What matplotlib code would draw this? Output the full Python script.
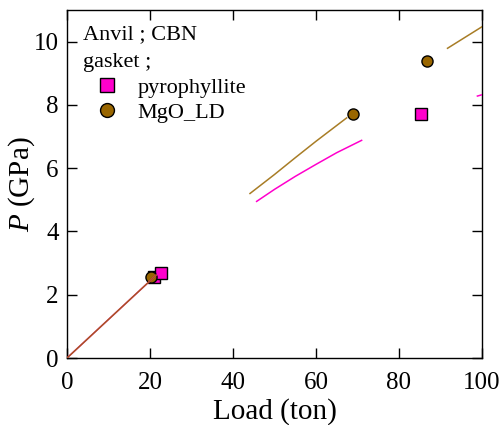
import matplotlib
matplotlib.use("Agg")
import matplotlib.pyplot as plt
from matplotlib.lines import Line2D

plt.rcParams['font.family'] = ['Liberation Serif', 'DejaVu Serif']
plt.rcParams['mathtext.fontset'] = 'custom'
plt.rcParams['mathtext.it'] = 'Liberation Serif:italic'
plt.rcParams['mathtext.rm'] = 'Liberation Serif'

# Data
pyro_load = [21.0, 22.7, 85.4]
pyro_p = [2.55, 2.69, 7.70]
mgo_load = [20.2, 69.0, 86.8]
mgo_p = [2.57, 7.70, 9.39]

# fitted curves (segments)
mag_seg1_x = [0.0, 21.5]
mag_seg1_y = [0.0, 2.62]
mag_seg2_x = [45.7, 50.0, 55.0, 60.0, 65.0, 71.0]
mag_seg2_y = [4.95, 5.33, 5.74, 6.12, 6.49, 6.88]
mag_seg3_x = [98.9, 100.0]
mag_seg3_y = [8.28, 8.32]

brn_seg1_x = [0.0, 21.5]
brn_seg1_y = [0.0, 2.62]
brn_seg2_x = [44.1, 50.0, 55.0, 60.0, 67.4]
brn_seg2_y = [5.20, 5.80, 6.33, 6.85, 7.59]
brn_seg3_x = [91.7, 100.0]
brn_seg3_y = [9.79, 10.47]

MAG = '#ff00cc'
BRN = '#996600'

fig = plt.figure(figsize=(5.04, 4.25), dpi=100)
ax = fig.add_axes([0.1329, 0.1576, 0.8234, 0.8189])

ax.plot(pyro_load, pyro_p, 's', ms=8, mfc=MAG, mec='black', mew=1.0, zorder=3)
ax.plot(mgo_load, mgo_p, 'o', ms=8, mfc=BRN, mec='black', mew=1.0, zorder=3)

for xs, ys in [(mag_seg1_x, mag_seg1_y), (mag_seg2_x, mag_seg2_y), (mag_seg3_x, mag_seg3_y)]:
    ax.plot(xs, ys, '-', color=MAG, lw=1.1, zorder=4)
for xs, ys in [(brn_seg1_x, brn_seg1_y), (brn_seg2_x, brn_seg2_y), (brn_seg3_x, brn_seg3_y)]:
    ax.plot(xs, ys, '-', color=BRN, lw=1.1, alpha=0.85, zorder=5)

ax.set_xlim(0, 100)
ax.set_ylim(0, 11)
ax.set_xticks([0, 20, 40, 60, 80, 100])
ax.set_yticks([0, 2, 4, 6, 8, 10])
ax.tick_params(direction='in', length=7, width=1, top=True, right=True, labelsize=18, pad=6)
ax.tick_params(axis='x', pad=10)
for s in ax.spines.values():
    s.set_linewidth(1.0)

ax.set_xlabel('Load (ton)', fontsize=21, labelpad=3)
ax.set_ylabel(r'$P$ (GPa)', fontsize=21)
ax.yaxis.set_label_coords(-0.072, 0.5)

ax.text(0.039, 0.929, 'Anvil ; CBN', transform=ax.transAxes, fontsize=16, va='center', ha='left')
ax.text(0.039, 0.850, 'gasket ;', transform=ax.transAxes, fontsize=16, va='center', ha='left')

handles = [
    Line2D([], [], ls='none', marker='s', ms=10, mfc=MAG, mec='black', mew=1.0),
    Line2D([], [], ls='none', marker='o', ms=10, mfc=BRN, mec='black', mew=1.0),
]
ax.legend(handles, ['pyrophyllite', 'MgO_LD'], loc='upper left', bbox_to_anchor=(0.057, 0.807),
          frameon=False, fontsize=16, handlelength=1.5, handletextpad=0.6,
          labelspacing=0.2, borderaxespad=0, borderpad=0)

fig.savefig('out.png', dpi=100)
